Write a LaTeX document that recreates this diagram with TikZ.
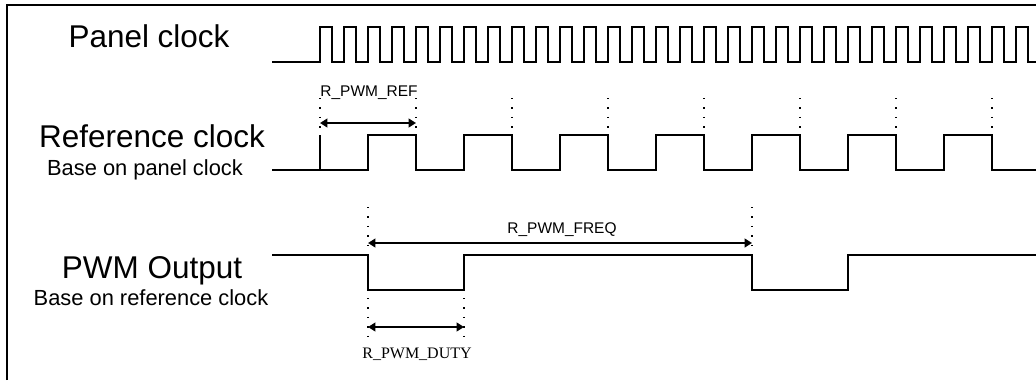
\documentclass[tikz,border=0pt]{standalone}
\usepackage{fontspec}
\setmainfont{Liberation Sans}
\newfontfamily\timesf{Liberation Serif}
\usetikzlibrary{arrows.meta}
\begin{document}
\begin{tikzpicture}[x=0.75pt,y=-0.75pt,
  sig/.style={line width=1.5pt, line join=miter},
  frame/.style={line width=1.8pt},
  dim/.style={line width=1.5pt, {Triangle[length=5.5pt,width=6.5pt]}-{Triangle[length=5.5pt,width=6.5pt]}},
  guide/.style={line width=1pt, dash pattern=on 1pt off 6.1pt},
  bigtxt/.style={anchor=base, inner sep=0pt, font=\fontsize{23.6pt}{28pt}\selectfont},
  subtxt/.style={anchor=base, inner sep=0pt, font=\fontsize{16.4pt}{20pt}\selectfont},
  lbl/.style={anchor=base, inner sep=0pt, font=\fontsize{11.6pt}{14pt}\selectfont},
  lblserif/.style={anchor=base, inner sep=0pt, font=\timesf\fontsize{12pt}{14pt}\selectfont}]
\useasboundingbox (0,0) rectangle (1036,380);
% frame
\draw[frame] (7,380) -- (7,5) -- (1036,5);
% labels
\node[bigtxt] (tpanel) at (149,47) {Panel clock};
\node[bigtxt] (tref) at (152,147) {Reference clock};
\node[subtxt] (tref2) at (145,175) {Base on panel clock};
\node[bigtxt] (tpwm) at (152,278) {PWM Output};
\node[subtxt] (tpwm2) at (151,305) {Base on reference clock};
% panel clock
\draw[sig] (272,62) -- (320,62)
  foreach \k in {0,...,28} { -- ++(0,-35) -- ++(12,0) -- ++(0,35) -- ++(12,0) }
  -- ++(0,-35) -- ++(12,0) -- ++(0,35) -- (1036,62);
% reference clock
\draw[sig] (272,170) -- (368,170)
  foreach \k in {0,...,5} { -- ++(0,-35) -- ++(48,0) -- ++(0,35) -- ++(48,0) }
  -- ++(0,-35) -- ++(48,0) -- ++(0,35) -- (1036,170);
\draw[sig] (320,170) -- (320,135);
% guides above reference clock
\foreach \x in {320,416,512,608,704,800,896,992} {
  \coordinate (g\x a) at (\x,98);
  \coordinate (g\x b) at (\x,131);
  \draw[guide] (g\x a) -- (g\x b);
}
% R_PWM_REF
\coordinate (refL) at (320,123);
\coordinate (refR) at (416,123);
\draw[dim] (refL) -- (refR);
\node[lbl] (lref) at (369,96) {R\_PWM\_REF};
% PWM output
\draw[sig] (272,255) -- (368,255) -- (368,290) -- (464,290) -- (464,255)
  -- (752,255) -- (752,290) -- (848,290) -- (848,255) -- (1036,255);
% guides PWM
\coordinate (f1a) at (368,207); \coordinate (f1b) at (368,250);
\coordinate (f2a) at (752,207); \coordinate (f2b) at (752,250);
\coordinate (d1a) at (368,298); \coordinate (d1b) at (368,342);
\coordinate (d2a) at (464,298); \coordinate (d2b) at (464,342);
\draw[guide] (f1a) -- (f1b);
\draw[guide] (f2a) -- (f2b);
\draw[guide] (d1a) -- (d1b);
\draw[guide] (d2a) -- (d2b);
% R_PWM_FREQ
\coordinate (frL) at (368,243);
\coordinate (frR) at (752,243);
\draw[dim] (frL) -- (frR);
\node[lbl] (lfreq) at (562,233) {R\_PWM\_FREQ};
% R_PWM_DUTY
\coordinate (duL) at (368,327);
\coordinate (duR) at (464,327);
\draw[dim] (duL) -- (duR);
\node[lblserif] (lduty) at (417,358) {R\_PWM\_DUTY};
\end{tikzpicture}
\end{document}
